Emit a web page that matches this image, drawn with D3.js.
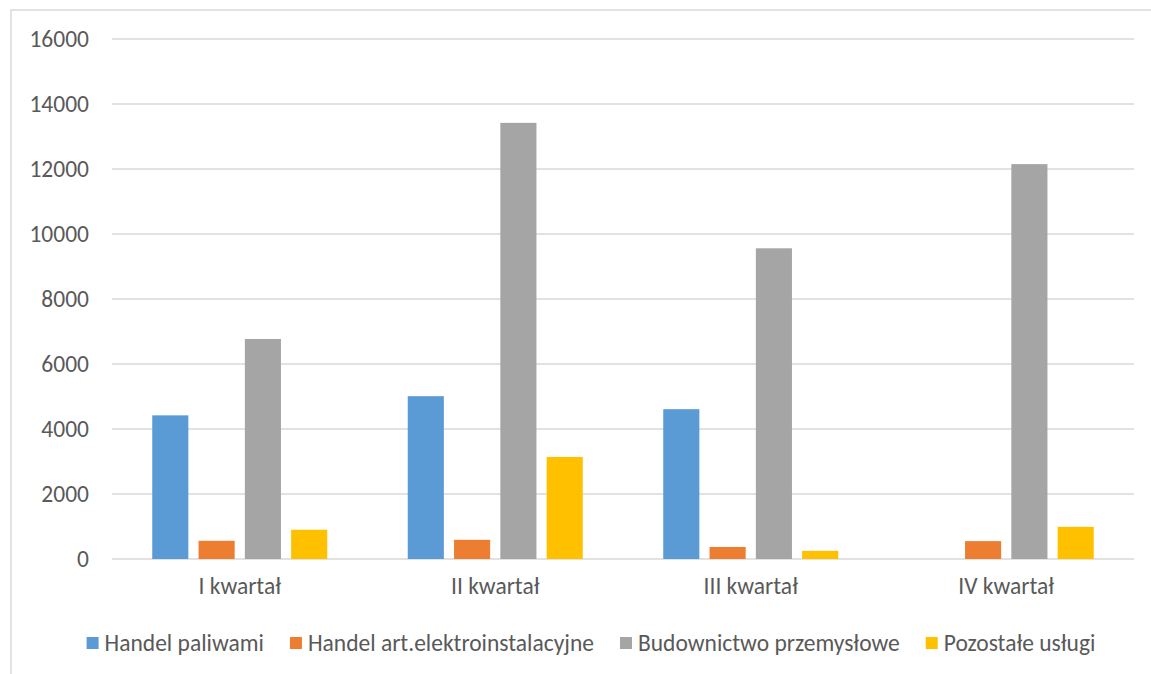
<!DOCTYPE html>
<html>
<head>
<meta charset="utf-8">
<script src="https://cdn.jsdelivr.net/npm/d3@7"></script>
<style>
  html, body { margin: 0; padding: 0; background: #fff; }
  svg text { font-family: Calibri, Carlito, "Liberation Sans", Arial, sans-serif; fill: #595959; }
</style>
</head>
<body>
<div id="chart"></div>
<script>
// dane wykresu
const categories = ['I kwartał', 'II kwartał', 'III kwartał', 'IV kwartał'];
const seriesNames = ['Handel paliwami', 'Handel art.elektroinstalacyjne', 'Budownictwo przemysłowe', 'Pozostałe usługi'];
const handelPaliwami = [4420, 5010, 4610, 0];
const handelElektro = [560, 590, 370, 550];
const budownictwo = [6770, 13420, 9560, 12150];
const pozostale = [900, 3140, 250, 990];
const yTicks = [0, 2000, 4000, 6000, 8000, 10000, 12000, 14000, 16000];
const colors = ['#5b9bd5', '#ed7d31', '#a5a5a5', '#ffc000'];

const seriesValues = [handelPaliwami, handelElektro, budownictwo, pozostale];

const width = 1151, height = 674;
const plot = { left: 112, right: 1134, top: 39, bottom: 559 };
const fontSize = '23.5px';

const svg = d3.select('#chart').append('svg')
  .attr('width', width)
  .attr('height', height);

// ramka wykresu
svg.append('rect')
  .attr('x', 11).attr('y', 10)
  .attr('width', 1160).attr('height', 700)
  .attr('fill', 'none')
  .attr('stroke', '#d9d9d9')
  .attr('stroke-width', 1.5);

const y = d3.scaleLinear().domain([0, 16000]).range([plot.bottom, plot.top]);
const x0 = d3.scaleBand().domain(categories)
  .range([plot.left, plot.right])
  .paddingInner(0.315).paddingOuter(0.1575);
const x1 = d3.scaleBand().domain(seriesNames)
  .range([0, x0.bandwidth()])
  .paddingInner(0.22);

// siatka
svg.append('g')
  .selectAll('line')
  .data(yTicks)
  .join('line')
  .attr('x1', plot.left).attr('x2', plot.right)
  .attr('y1', d => y(d)).attr('y2', d => y(d))
  .attr('stroke', '#d9d9d9')
  .attr('stroke-width', 1.5);

// oś Y
const yAxis = svg.append('g')
  .attr('transform', `translate(${plot.left - 23},0)`)
  .call(d3.axisLeft(y).tickValues(yTicks).tickSize(0).tickPadding(0).tickFormat(d3.format('d')));
yAxis.select('.domain').remove();
yAxis.selectAll('text').style('font-size', fontSize);

// słupki
const groups = svg.append('g')
  .selectAll('g')
  .data(categories)
  .join('g')
  .attr('transform', d => `translate(${x0(d)},0)`);

groups.selectAll('rect')
  .data((d, i) => seriesNames.map((s, j) => ({ series: s, value: seriesValues[j][i], color: colors[j] })))
  .join('rect')
  .attr('x', d => x1(d.series))
  .attr('width', x1.bandwidth())
  .attr('y', d => y(d.value))
  .attr('height', d => y(0) - y(d.value))
  .attr('fill', d => d.color);

// oś X
const xAxis = svg.append('g')
  .attr('transform', `translate(0,${plot.bottom})`)
  .call(d3.axisBottom(x0).tickSize(0).tickPadding(18));
xAxis.select('.domain').remove();
xAxis.selectAll('text').style('font-size', fontSize);

// legenda
const legend = svg.append('g').attr('transform', 'translate(0,643)');
const items = legend.selectAll('g')
  .data(seriesNames)
  .join('g');
items.append('rect')
  .attr('y', -6).attr('width', 12).attr('height', 12)
  .attr('fill', (d, i) => colors[i]);
items.append('text')
  .attr('x', 18).attr('dy', '0.35em')
  .style('font-size', fontSize)
  .text(d => d);

const gap = 26;
let offsets = [], pos = 0;
items.each(function (d, i) {
  offsets.push(pos);
  pos += 18 + this.querySelector('text').getComputedTextLength() + gap;
});
const total = pos - gap;
const startX = 591 - total / 2;
items.attr('transform', (d, i) => `translate(${startX + offsets[i]},0)`);
</script>
</body>
</html>
